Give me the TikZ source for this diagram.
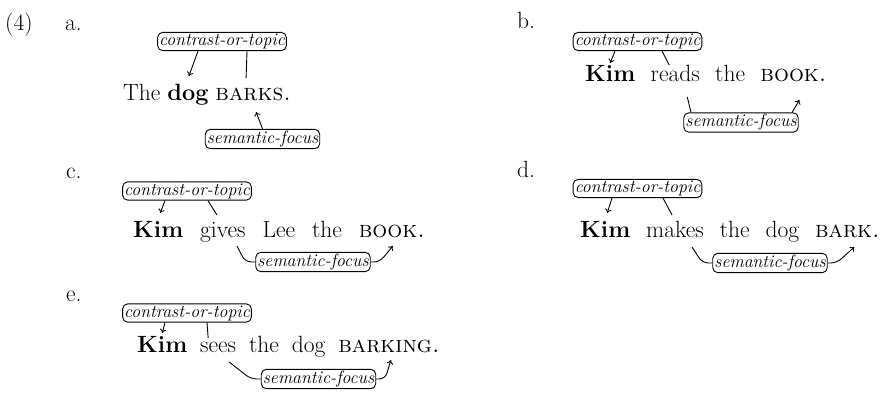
\documentclass[tikz,border=0pt]{standalone}
\usepackage{fontspec}
\usetikzlibrary{arrows.meta,calc}
\newcommand\mainsz{\fontsize{23.5}{27}\selectfont}
\newcommand\lblsz{\fontsize{17.8}{20}\selectfont\itshape}
\begin{document}
\begin{tikzpicture}[x=1pt,y=-1pt,
  wd/.style={inner sep=0pt, anchor=base west, font=\mainsz},
  lbl/.style={draw, rounded corners=5pt, inner sep=1.6pt, font=\lblsz, line width=0.9pt},
  conn/.style={line width=0.9pt},
  arr/.style={line width=0.9pt, -{To[length=4pt,width=6.5pt]}},
  brk/.style={line width=0.9pt, rounded corners=6pt},
]
\useasboundingbox (0,0) rectangle (886,399);
% labels
\node[wd] (n4) at (5,30) {(4)};
\node[wd] (la) at (65,30) {a.};
\node[wd] (lb) at (517,28) {b.};
\node[wd] (lc) at (66,178) {c.};
\node[wd] (ld) at (517,177) {d.};
\node[wd] (le) at (66,301) {e.};

% ---------- a ----------
\def\sp{6.5pt}
\node[wd] (a1) at (123,100) {The};
\node[wd] (a2) at ([xshift=\sp]a1.base east) {\textbf{dog}};
\node[wd] (a3) at ([xshift=\sp]a2.base east) {\textsc{barks.}};
\node[lbl] (at) at (222,41.5) {contrast-or-topic};
\node[lbl] (as) at (262.5,139) {semantic-focus};
\draw[arr] ([shift={(-24,0)}]at.south) -- ([shift={(1,-24)}]a2.base);
\draw[conn] ([shift={(25,0)}]at.south) -- ([shift={(-7,-22)}]a3.base);
\draw[arr] (as.north) -- ([shift={(3,12)}]a3.base);

% ---------- b ----------
\def\sp{15pt}
\node[wd] (b1) at (585,81) {\textbf{Kim}};
\node[wd] (b2) at ([xshift=\sp]b1.base east) {reads};
\node[wd] (b3) at ([xshift=\sp]b2.base east) {the};
\node[wd] (b4) at ([xshift=\sp]b3.base east) {\textsc{book.}};
\node[lbl] (bt) at (637.5,41.5) {contrast-or-topic};
\node[lbl] (bs) at (741,122.5) {semantic-focus};
\draw[arr] ([shift={(-22.5,0)}]bt.south) -- ([shift={(0,-18)}]b1.base);
\draw[conn] ([shift={(24.5,0)}]bt.south) -- ([shift={(-6,-16)}]b2.base);
\draw[conn] ([shift={(12,16)}]b2.base) -- ([shift={(-50,0)}]bs.north);
\draw[arr] ([shift={(51,0)}]bs.north) -- ([shift={(6,19)}]b4.base);

% ---------- c ----------
\def\sp{16.5pt}
\node[wd] (c1) at (133,237) {\textbf{Kim}};
\node[wd] (c2) at ([xshift=\sp]c1.base east) {gives};
\node[wd] (c3) at ([xshift=\sp]c2.base east) {Lee};
\node[wd] (c4) at ([xshift=\sp]c3.base east) {the};
\node[wd] (c5) at ([xshift=\sp]c4.base east) {\textsc{book.}};
\node[lbl] (ct) at (187,191) {contrast-or-topic};
\node[lbl] (cs) at (313,262) {semantic-focus};
\draw[arr] ([shift={(-22,0)}]ct.south) -- ([shift={(2,-24)}]c1.base);
\draw[conn] ([shift={(21,0)}]ct.south) -- ([shift={(-6,-22)}]c2.base);
\draw[brk] ([shift={(14,9)}]c2.base) -- ([shift={(-10,0)}]cs.west) -- (cs.west);
\draw[brk,arr] (cs.east) -- ([shift={(9,0)}]cs.east) -- ([shift={(1,9)}]c5.base);

% ---------- d ----------
\def\sp{15.5pt}
\node[wd] (d1) at (580,237) {\textbf{Kim}};
\node[wd] (d2) at ([xshift=\sp]d1.base east) {makes};
\node[wd] (d3) at ([xshift=\sp]d2.base east) {the};
\node[wd] (d4) at ([xshift=\sp]d3.base east) {dog};
\node[wd] (d5) at ([xshift=\sp]d4.base east) {\textsc{bark.}};
\node[lbl] (dt) at (637.5,188.5) {contrast-or-topic};
\node[lbl] (ds) at (770,263) {semantic-focus};
\draw[arr] ([shift={(-25.5,0)}]dt.south) -- ([shift={(2,-24)}]d1.base);
\draw[conn] ([shift={(25.5,0)}]dt.south) -- ([shift={(-3,-22)}]d2.base);
\draw[brk] ([shift={(17,10)}]d2.base) -- ([shift={(-10,0)}]ds.west) -- (ds.west);
\draw[brk,arr] (ds.east) -- ([shift={(9,0)}]ds.east) -- ([shift={(7,10)}]d5.base);

% ---------- e ----------
\def\sp{12.5pt}
\node[wd] (e1) at (137,352) {\textbf{Kim}};
\node[wd] (e2) at ([xshift=\sp]e1.base east) {sees};
\node[wd] (e3) at ([xshift=\sp]e2.base east) {the};
\node[wd] (e4) at ([xshift=\sp]e3.base east) {dog};
\node[wd] (e5) at ([xshift=\sp]e4.base east) {\textsc{barking.}};
\node[lbl] (et) at (187,313) {contrast-or-topic};
\node[lbl] (es) at (318.5,379) {semantic-focus};
\draw[arr] ([shift={(-22,0)}]et.south) -- ([shift={(0,-19)}]e1.base);
\draw[conn] ([shift={(20,0)}]et.south) -- ([shift={(-10,-14)}]e2.base);
\draw[brk] ([shift={(11,10)}]e2.base) -- ([shift={(-10,0)}]es.west) -- (es.west);
\draw[brk,arr] (es.east) -- ([shift={(9,0)}]es.east) -- ([shift={(2,8)}]e5.base);
\end{tikzpicture}
\end{document}
